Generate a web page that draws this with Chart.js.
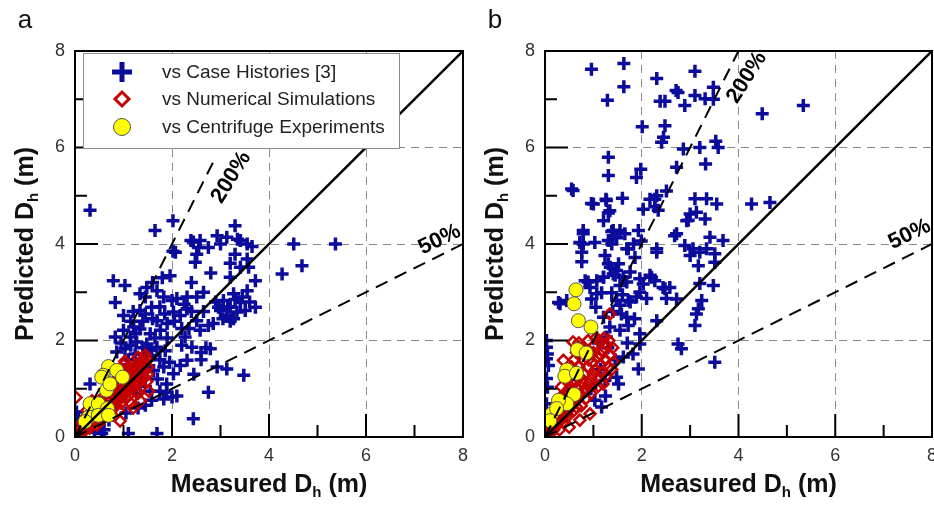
<!DOCTYPE html>
<html>
<head>
<meta charset="utf-8">
<script src="https://cdn.jsdelivr.net/npm/chart.js@4.4.1/dist/chart.umd.min.js"></script>
<style>
  html, body { margin: 0; padding: 0; background: #fff; }
  #wrap { position: relative; width: 934px; height: 508px; overflow: hidden; }
  canvas { position: absolute; top: 0; }
</style>
</head>
<body>
<div id="wrap">
  <canvas id="panelA" width="480" height="508" style="left:0px"></canvas>
  <canvas id="panelB" width="480" height="508" style="left:467px"></canvas>
</div>
<script>
// ---- data: [measured, predicted] in metres ----
const caseA = [[0.31,4.70],[1.65,4.28],[2.02,4.48],[2.02,3.85],[1.96,3.34],[2.39,4.07],[2.58,4.07],[2.51,3.79],[2.48,3.62],[2.75,3.93],[2.93,4.17],[3.13,4.14],[3.30,4.38],[3.41,4.07],[3.55,4.00],[3.30,3.79],[3.55,3.69],[3.58,3.52],[3.41,3.52],[3.20,3.31],[3.72,3.24],[4.51,4.00],[5.37,4.00],[4.27,3.38],[4.68,3.55],[3.72,2.69],[3.55,3.03],[3.27,2.97],[2.96,2.69],[3.00,2.62],[3.20,2.69],[3.34,2.59],[3.27,2.45],[3.13,2.52],[3.41,2.79],[3.51,2.62],[3.06,2.83],[3.48,1.28],[3.13,1.41],[2.93,1.45],[2.79,1.83],[2.75,0.93],[2.44,0.38],[2.00,0.83],[1.89,0.93],[1.83,0.79],[2.17,1.48],[2.31,1.59],[2.41,1.86],[2.27,2.07],[2.51,2.41],[2.75,2.31],[2.58,2.21],[2.17,2.52],[2.31,2.66],[2.03,2.59],[1.83,2.90],[2.00,2.83],[1.69,3.03],[1.45,2.90],[1.34,2.62],[1.58,2.69],[1.69,2.41],[1.76,2.21],[1.55,2.14],[1.34,2.24],[1.21,2.28],[1.14,2.07],[1.27,1.97],[1.48,1.93],[1.69,1.86],[1.86,1.79],[1.58,1.69],[1.41,1.72],[1.24,1.72],[1.03,1.83],[0.86,1.76],[0.83,2.07],[1.00,2.21],[0.79,3.24],[1.03,3.14],[0.83,2.79],[1.00,2.52],[1.34,2.97],[1.48,3.10],[1.83,1.45],[2.03,1.31],[1.89,1.10],[1.62,1.38],[1.45,1.21],[1.27,0.90],[1.58,0.76],[1.45,0.66],[0.31,1.10],[1.10,0.07],[1.69,0.07],[0.55,0.07],[0.00,0.03],[0.03,0.52],[0.07,0.41],[0.03,0.31],[2.31,2.90],[2.51,2.90],[2.44,4.04],[2.55,3.93],[2.07,3.83],[2.10,2.87],[1.90,2.35],[2.20,2.25],[2.40,2.60],[2.65,2.60],[2.85,2.35],[2.60,1.75],[2.70,1.85],[2.20,1.90],[2.45,1.30],[2.60,1.60],[1.95,1.55],[1.75,1.60],[1.60,2.45],[1.40,2.40],[1.15,2.40],[1.10,1.60],[1.30,1.50],[1.50,1.45],[1.70,1.20],[1.35,1.05],[1.20,1.25],[1.00,1.40],[0.90,0.90],[0.70,0.35],[1.05,0.50],[1.30,0.60],[0.60,0.15],[0.40,0.10],[1.55,0.95],[1.75,0.95],[2.10,0.85],[2.25,2.75],[3.15,2.70],[3.30,2.85],[3.05,2.45],[3.45,2.90],[3.20,2.40],[3.60,2.80],[2.90,2.80],[3.35,4.10],[3.00,4.00],[3.20,3.60],[2.80,3.40],[2.65,3.00],[2.40,3.20],[1.80,3.30],[1.60,3.20],[3.65,3.95],[1.85,2.55],[0.95,1.95],[1.20,2.60],[1.25,2.15],[1.45,2.55],[1.65,2.05],[1.90,2.05],[2.05,2.40],[1.40,1.85],[1.75,2.70],[2.35,2.25],[1.55,1.80],[1.15,1.90]];
const numA = [[0.05,0.05],[0.10,0.08],[0.12,0.15],[0.15,0.10],[0.20,0.20],[0.22,0.15],[0.25,0.30],[0.28,0.22],[0.30,0.35],[0.32,0.25],[0.35,0.40],[0.38,0.30],[0.40,0.45],[0.42,0.35],[0.45,0.50],[0.48,0.40],[0.50,0.60],[0.52,0.45],[0.55,0.55],[0.58,0.50],[0.60,0.70],[0.62,0.55],[0.65,0.75],[0.68,0.60],[0.70,0.80],[0.72,0.65],[0.75,0.90],[0.78,0.70],[0.80,0.85],[0.82,0.75],[0.85,1.00],[0.88,0.80],[0.90,0.95],[0.92,0.85],[0.95,1.10],[0.98,0.90],[1.00,1.20],[1.02,0.95],[1.05,1.05],[1.08,1.00],[1.10,1.30],[1.12,1.10],[1.15,1.00],[1.18,1.35],[1.20,1.20],[1.22,1.45],[1.25,1.30],[1.28,1.15],[1.30,1.50],[1.32,1.40],[1.35,1.25],[1.38,1.60],[1.40,1.50],[1.42,1.35],[1.45,1.55],[1.50,1.45],[1.52,0.95],[1.30,0.90],[1.05,0.80],[0.35,0.75],[0.40,0.65],[0.25,0.55],[0.02,0.82],[0.15,0.30],[0.50,0.30],[0.60,0.40],[1.15,0.70],[0.90,0.55],[1.00,1.50],[0.90,1.30],[1.20,0.60],[1.35,0.75],[0.80,1.15],[1.45,1.70],[1.03,1.57],[0.55,0.80],[0.93,0.33],[0.70,0.50],[0.85,0.65],[1.10,0.85],[1.25,1.05],[1.40,1.20],[0.45,0.25],[0.30,0.18],[0.65,0.95],[1.15,1.40],[1.30,1.65],[0.95,0.70],[1.50,1.30],[0.08,0.12],[0.18,0.25],[0.27,0.36],[0.37,0.52],[0.47,0.62],[0.57,0.68],[0.67,0.82],[0.77,0.95],[0.87,1.12],[0.97,1.25],[1.07,1.18],[1.17,1.28],[1.27,1.42],[1.37,1.45],[1.47,1.62],[0.62,0.48],[0.72,0.58],[0.82,0.68],[0.92,0.78],[1.02,0.88],[1.12,0.98],[1.22,1.08],[1.32,1.12],[1.42,1.25],[0.33,0.48],[0.53,0.72],[0.43,0.58],[0.23,0.42],[1.10,1.45],[0.98,1.35],[1.38,1.05],[1.25,0.95],[1.48,1.15]];
const centA = [[0.69,1.46],[0.86,1.38],[0.58,1.28],[0.98,1.24],[0.55,1.24],[0.65,0.97],[0.72,1.10],[0.31,0.69],[0.48,0.69],[0.67,0.59],[0.28,0.41],[0.48,0.45],[0.21,0.32],[0.69,0.45]];

const caseB = [[0.96,7.62],[1.63,7.74],[1.63,7.26],[1.29,6.98],[2.31,7.43],[2.38,6.96],[2.48,6.96],[2.71,7.18],[2.89,6.87],[3.10,7.58],[2.75,7.14],[3.10,7.08],[3.31,7.01],[3.48,7.25],[3.48,7.00],[4.49,6.70],[5.34,6.87],[2.01,6.43],[2.48,6.45],[2.45,6.21],[2.41,6.11],[2.86,5.97],[3.20,6.00],[3.53,6.13],[3.58,6.00],[3.32,5.66],[2.72,5.59],[1.98,5.55],[1.89,5.38],[1.31,5.80],[1.31,5.42],[0.55,5.14],[2.03,4.72],[2.17,4.93],[2.31,5.00],[2.27,4.77],[2.34,4.70],[2.51,5.10],[0.96,4.84],[1.26,4.93],[1.60,4.95],[1.34,4.69],[1.21,4.48],[1.41,4.28],[1.55,4.28],[1.65,4.21],[0.79,4.28],[1.03,4.03],[0.72,4.03],[1.31,4.07],[1.93,4.28],[1.83,4.00],[1.69,3.90],[1.86,3.72],[2.31,3.90],[2.72,4.21],[2.93,4.48],[3.00,4.62],[3.10,4.94],[3.34,4.94],[3.55,4.83],[4.27,4.83],[4.65,4.86],[3.13,4.66],[2.96,4.49],[3.31,4.52],[3.41,4.14],[3.68,4.07],[2.89,3.97],[3.06,3.90],[3.20,3.83],[3.34,3.90],[3.51,3.80],[3.00,3.76],[3.17,3.55],[3.51,3.62],[3.20,3.18],[3.48,3.14],[3.24,2.83],[3.17,2.66],[2.72,2.86],[3.13,2.55],[3.10,2.31],[2.75,1.93],[2.82,1.83],[3.51,1.55],[1.93,1.41],[2.58,3.10],[2.44,3.10],[2.31,2.41],[2.20,3.31],[2.03,3.17],[1.89,2.90],[1.72,2.83],[1.69,2.48],[1.58,2.55],[1.48,2.83],[1.41,3.38],[1.48,3.45],[1.62,3.31],[1.31,3.59],[1.21,3.31],[1.07,2.97],[0.93,3.10],[0.83,3.24],[0.28,2.79],[1.05,2.69],[1.21,2.48],[1.34,2.28],[1.55,2.21],[1.72,2.31],[1.96,2.14],[1.96,1.93],[1.82,1.72],[1.62,1.66],[1.48,1.24],[1.52,1.10],[1.24,1.17],[1.17,0.62],[1.03,0.76],[0.93,1.72],[1.27,2.07],[0.58,5.11],[1.00,4.83],[1.27,4.90],[1.31,4.64],[1.38,4.26],[1.48,4.13],[0.79,4.21],[0.79,4.00],[0.76,3.83],[0.76,3.63],[1.24,3.76],[1.38,4.00],[1.72,3.90],[1.99,4.06],[2.27,4.93],[2.31,3.83],[2.68,4.17],[0.89,3.21],[1.07,3.24],[1.21,3.31],[1.35,3.52],[1.52,3.59],[1.45,3.35],[1.55,3.14],[1.69,3.21],[1.76,3.42],[1.38,2.99],[1.17,2.99],[0.96,2.86],[0.31,2.76],[0.45,2.83],[1.96,3.28],[2.17,3.35],[2.27,3.24],[1.96,3.00],[2.10,2.87],[2.48,3.07],[2.51,2.87],[1.76,2.80],[1.55,2.73],[0.03,2.00],[0.03,1.86],[0.05,1.72],[0.03,1.62],[0.07,1.48],[0.03,1.21],[0.05,1.03],[0.03,0.69],[1.10,1.95],[1.30,1.85],[1.45,1.60],[1.70,1.95],[1.15,1.40],[0.95,1.00],[1.25,0.85],[1.40,2.60],[1.60,2.95],[1.85,2.45]];
const numB = [[0.05,0.05],[0.08,0.12],[0.12,0.08],[0.15,0.20],[0.18,0.15],[0.20,0.30],[0.22,0.22],[0.25,0.40],[0.28,0.30],[0.30,0.50],[0.32,0.35],[0.35,0.60],[0.38,0.42],[0.40,0.75],[0.42,0.50],[0.45,0.90],[0.48,0.55],[0.50,1.00],[0.52,0.62],[0.55,1.15],[0.58,0.70],[0.60,0.85],[0.62,1.30],[0.65,0.75],[0.68,1.00],[0.70,1.45],[0.72,0.85],[0.75,1.15],[0.78,0.95],[0.80,1.60],[0.82,1.30],[0.85,1.00],[0.88,1.45],[0.90,1.10],[0.92,1.75],[0.95,1.20],[0.98,1.55],[1.00,1.30],[1.02,1.90],[1.05,1.40],[1.08,1.65],[1.10,1.20],[1.12,2.00],[1.15,1.50],[1.18,1.80],[1.20,1.35],[1.22,2.05],[1.25,1.60],[1.28,1.90],[1.30,1.45],[1.32,2.00],[1.35,1.70],[1.40,1.85],[1.42,1.55],[1.34,2.55],[0.58,1.97],[0.89,2.00],[1.14,1.97],[0.38,1.59],[0.55,1.45],[0.34,1.04],[0.58,1.10],[0.86,0.97],[0.38,0.76],[0.65,0.62],[0.93,0.48],[0.45,0.41],[0.72,0.35],[0.21,0.28],[0.50,0.20],[0.30,0.15],[0.75,1.85],[1.00,1.75],[0.45,1.25],[0.60,1.60],[0.25,0.70],[0.70,1.95],[0.80,1.80],[1.05,2.05],[0.65,1.75],[0.50,1.35],[0.72,1.25],[0.90,1.60],[1.15,1.70],[1.25,1.25],[1.10,1.05],[0.85,0.80],[0.60,0.55],[0.40,0.30],[0.95,0.90],[1.20,1.10],[0.65,1.15],[0.55,0.95],[0.35,0.85],[0.75,0.65],[1.38,1.40]];
const centB = [[0.64,3.05],[0.60,2.76],[0.69,2.41],[0.95,2.28],[0.67,1.81],[0.85,1.74],[0.45,1.39],[0.41,1.26],[0.65,1.32],[0.60,0.88],[0.45,0.69],[0.28,0.76],[0.14,0.48],[0.24,0.59],[0.10,0.34]];

// reference lines (1:1, 200 %, 50 %)
const lineOne = [[0, 0], [8, 8]];
const line200A = [[0, 0], [2.9, 5.8]];
const line200B = [[0, 0], [4, 8]];
const line50 = [[0, 0], [8, 4]];

const seriesNames = ['vs Case Histories [3]', 'vs Numerical Simulations', 'vs Centrifuge Experiments'];
const axisTicks = [0, 2, 4, 6, 8];

const FONT = '"Liberation Sans", Arial, Helvetica, sans-serif';
const BLUE = '#0b0b9c';
const RED = '#c40000';

function pts(arr) { return arr.map(p => ({x: p[0], y: p[1]})); }

function refLine(arr, dashed) {
  return {
    data: pts(arr), showLine: true, pointRadius: 0, borderColor: '#000',
    borderWidth: dashed ? 2 : 2.5, borderDash: dashed ? [13, 8] : [], fill: false
  };
}

function drawTitle(ctx, main, sub, tail) {
  ctx.font = 'bold 25px ' + FONT;
  const w1 = ctx.measureText(main).width;
  const w3 = ctx.measureText(tail).width;
  ctx.font = 'bold 15px ' + FONT;
  const w2 = ctx.measureText(sub).width;
  let x = -(w1 + w2 + w3) / 2;
  ctx.textAlign = 'left';
  ctx.textBaseline = 'alphabetic';
  ctx.font = 'bold 25px ' + FONT;
  ctx.fillText(main, x, 9);
  x += w1;
  ctx.font = 'bold 15px ' + FONT;
  ctx.fillText(sub, x, 14);
  x += w2;
  ctx.font = 'bold 25px ' + FONT;
  ctx.fillText(tail, x, 9);
}

const deco = {
  id: 'deco',
  afterDraw(chart, args, o) {
    const ctx = chart.ctx;
    const a = chart.chartArea;
    const xs = chart.scales.x, ys = chart.scales.y;
    ctx.save();
    // inward ticks
    ctx.strokeStyle = '#000';
    ctx.lineWidth = 2;
    for (let v = 1; v < 8; v++) {
      const len = v % 2 === 0 ? 23 : 12;
      const py = ys.getPixelForValue(v);
      const px = xs.getPixelForValue(v);
      ctx.beginPath();
      ctx.moveTo(a.left, py); ctx.lineTo(a.left + len, py);
      ctx.moveTo(px, a.bottom); ctx.lineTo(px, a.bottom - len);
      ctx.stroke();
    }
    // frame
    ctx.strokeRect(a.left, a.top, a.right - a.left, a.bottom - a.top);

    // line labels
    ctx.fillStyle = '#000';
    ctx.font = 'bold 22px ' + FONT;
    ctx.textAlign = 'center';
    ctx.textBaseline = 'middle';
    o.lineLabels.forEach(l => {
      ctx.save();
      ctx.translate(xs.getPixelForValue(l.x), ys.getPixelForValue(l.y));
      ctx.rotate(l.angle * Math.PI / 180);
      ctx.fillText(l.text, 0, 0);
      ctx.restore();
    });

    // legend box
    if (o.legend) {
      const L = {x: a.left + 8, y: a.top + 2, w: 316, h: 95};
      ctx.fillStyle = '#fff';
      ctx.fillRect(L.x, L.y, L.w, L.h);
      ctx.strokeStyle = '#8c8c8c';
      ctx.lineWidth = 1;
      ctx.strokeRect(L.x + 0.5, L.y + 0.5, L.w, L.h);
      const mx = L.x + 39;
      const rows = [L.y + 19, L.y + 46, L.y + 74];
      // cross
      ctx.strokeStyle = BLUE; ctx.lineWidth = 5;
      ctx.beginPath();
      ctx.moveTo(mx - 10, rows[0]); ctx.lineTo(mx + 10, rows[0]);
      ctx.moveTo(mx, rows[0] - 10); ctx.lineTo(mx, rows[0] + 10);
      ctx.stroke();
      // diamond
      ctx.strokeStyle = RED; ctx.lineWidth = 3;
      ctx.beginPath();
      ctx.moveTo(mx, rows[1] - 7); ctx.lineTo(mx + 7, rows[1]);
      ctx.lineTo(mx, rows[1] + 7); ctx.lineTo(mx - 7, rows[1]);
      ctx.closePath();
      ctx.stroke();
      // circle
      ctx.fillStyle = '#ffff00'; ctx.strokeStyle = '#555'; ctx.lineWidth = 1;
      ctx.beginPath();
      ctx.arc(mx, rows[2], 8.5, 0, Math.PI * 2);
      ctx.fill(); ctx.stroke();
      ctx.fillStyle = '#222';
      ctx.font = '19px ' + FONT;
      ctx.textAlign = 'left';
      ctx.textBaseline = 'middle';
      seriesNames.forEach((t, i) => ctx.fillText(t, L.x + 79, rows[i] + 1));
    }

    // axis titles
    ctx.fillStyle = '#111';
    ctx.save();
    ctx.translate((a.left + a.right) / 2, 483);
    drawTitle(ctx, 'Measured D', 'h', ' (m)');
    ctx.restore();
    ctx.save();
    ctx.translate(a.left - 51, (a.top + a.bottom) / 2);
    ctx.rotate(-Math.PI / 2);
    drawTitle(ctx, 'Predicted D', 'h', ' (m)');
    ctx.restore();

    // panel letter
    ctx.fillStyle = '#111';
    ctx.font = '26px ' + FONT;
    ctx.textAlign = 'center';
    ctx.textBaseline = 'alphabetic';
    ctx.fillText(o.letter, a.left - 50, 28);
    ctx.restore();
  }
};

function gridColor(c) {
  const v = c.tick ? c.tick.value : null;
  return (v === 2 || v === 4 || v === 6) ? '#8a8a8a' : 'rgba(0,0,0,0)';
}

function makePanel(id, p) {
  return new Chart(document.getElementById(id), {
    type: 'scatter',
    data: {
      datasets: [
        refLine(lineOne, false),
        refLine(p.upper, true),
        refLine(line50, true),
        {label: seriesNames[2], data: pts(p.cent), pointStyle: 'circle', pointRadius: 7,
         backgroundColor: '#ffff00', borderColor: '#555', borderWidth: 1},
        {label: seriesNames[1], data: pts(p.num), pointStyle: 'rectRot', pointRadius: 5.5,
         backgroundColor: 'rgba(255,255,255,0)', borderColor: RED, borderWidth: 2.5},
        {label: seriesNames[0], data: pts(p.cases), pointStyle: 'cross', pointRadius: 6.5,
         borderColor: BLUE, backgroundColor: BLUE, borderWidth: 3.5}
      ]
    },
    options: {
      responsive: false,
      animation: false,
      devicePixelRatio: 1,
      events: [],
      layout: {padding: {top: 51, right: p.padRight, left: 0, bottom: 0}},
      plugins: {
        legend: {display: false},
        tooltip: {enabled: false},
        deco: {legend: p.legend, letter: p.letter, lineLabels: p.lineLabels}
      },
      scales: {
        x: {
          type: 'linear', min: 0, max: 8,
          afterBuildTicks: s => { s.ticks = axisTicks.map(v => ({value: v})); },
          ticks: {font: {size: 18, family: FONT}, color: '#333', padding: 8},
          grid: {color: gridColor, drawTicks: false, lineWidth: 1},
          border: {display: false, dash: [8, 6]},
          afterFit: s => { s.height = 71; }
        },
        y: {
          type: 'linear', min: 0, max: 8,
          afterBuildTicks: s => { s.ticks = axisTicks.map(v => ({value: v})); },
          ticks: {font: {size: 18, family: FONT}, color: '#333', padding: 10},
          grid: {color: gridColor, drawTicks: false, lineWidth: 1},
          border: {display: false, dash: [8, 6]},
          afterFit: s => { s.width = p.yWidth; }
        }
      }
    },
    plugins: [deco]
  });
}

makePanel('panelA', {
  cases: caseA, num: numA, cent: centA, upper: line200A,
  legend: true, letter: 'a', yWidth: 75, padRight: 17,
  lineLabels: [{text: '200%', x: 3.22, y: 5.38, angle: -58}, {text: '50%', x: 7.52, y: 4.09, angle: -26}]
});
makePanel('panelB', {
  cases: caseB, num: numB, cent: centB, upper: line200B,
  legend: false, letter: 'b', yWidth: 78, padRight: 15,
  lineLabels: [{text: '200%', x: 4.17, y: 7.45, angle: -58}, {text: '50%', x: 7.54, y: 4.2, angle: -26}]
});
</script>
</body>
</html>
